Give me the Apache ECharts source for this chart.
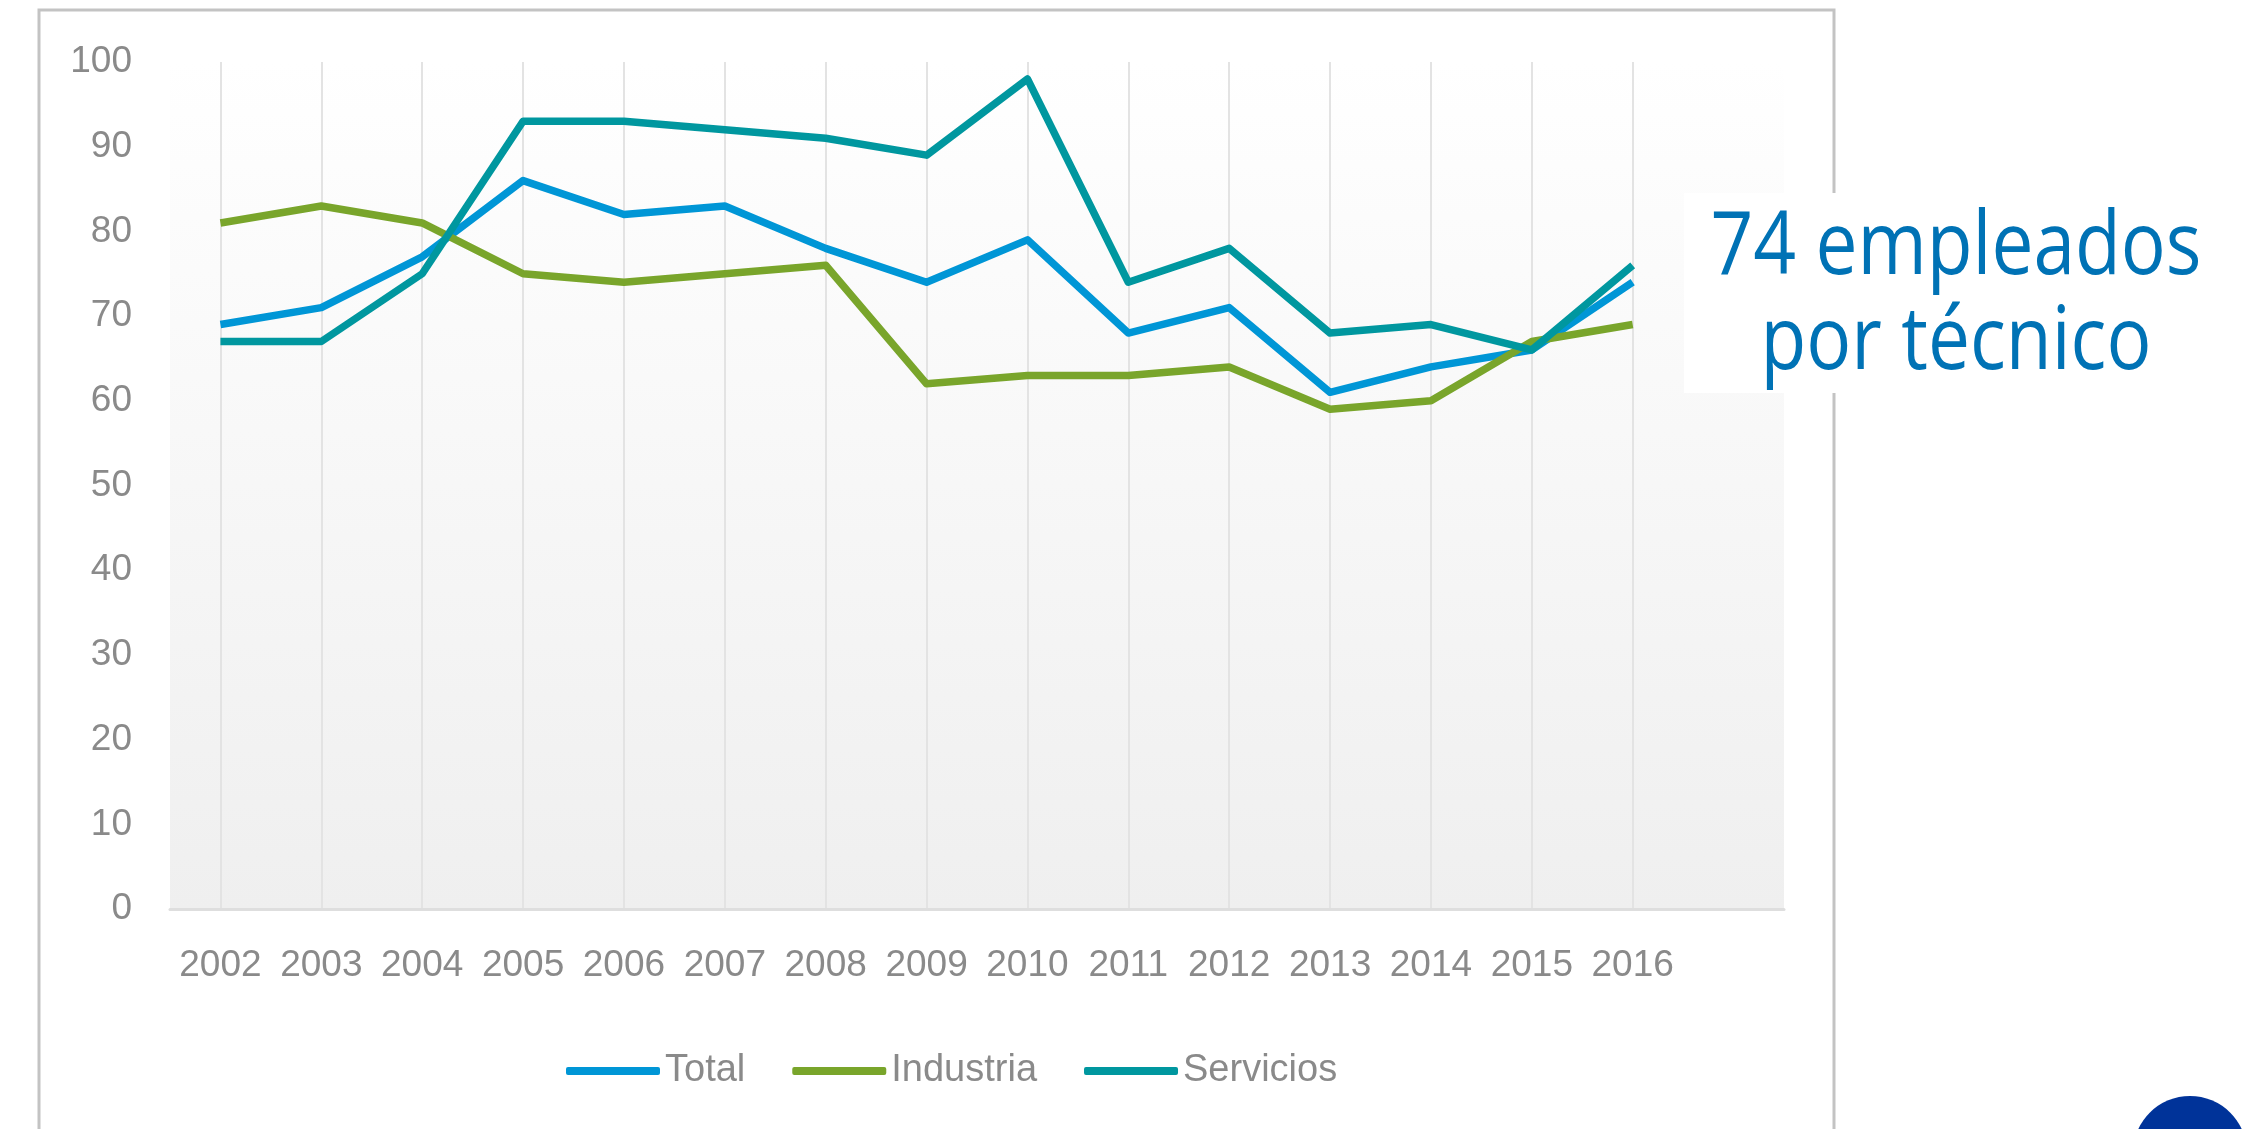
<!DOCTYPE html>
<html>
<head>
<meta charset="utf-8">
<script src="https://cdn.jsdelivr.net/npm/echarts@6/dist/echarts.min.js"></script>
<style>
html,body{margin:0;padding:0;background:#fff;}
#chart{width:2256px;height:1129px;}
</style>
</head>
<body>
<div id="chart"></div>
<script>
const categories = ['2002','2003','2004','2005','2006','2007','2008','2009','2010','2011','2012','2013','2014','2015','2016',''];
const total     = [69,71,77,86,82,83,78,74,79,68,71,61,64,66,74];
const industria = [81,83,81,75,74,75,76,62,63,63,64,59,60,67,69];
const servicios = [67,67,75,93,93,92,91,89,98,74,78,68,69,66,76];
const seriesNames = ['Total','Industria','Servicios'];
const yTicks = {min:0, max:100, interval:10};
const calloutLines = ['74 empleados','por técnico'];

const labelFont = "'Liberation Sans',sans-serif";
const grey = '#8a8a8a';
const colors = ['#0096d6','#79a52b','#00979f'];

const chart = echarts.init(document.getElementById('chart'));
chart.setOption({
  animation:false,
  backgroundColor:'#ffffff',
  grid:{left:170,right:472,top:62,bottom:220,show:true,borderWidth:0,
    backgroundColor:{type:'linear',x:0,y:0,x2:0,y2:1,colorStops:[
      {offset:0,color:'#ffffff'},{offset:0.12,color:'#fdfdfd'},{offset:1,color:'#efefef'}]}},
  legend:{
    left:561, top:1047, itemWidth:94, itemHeight:8, itemGap:47, icon:'roundRect',
    data:seriesNames,
    textStyle:{color:grey,fontSize:38,fontFamily:labelFont}
  },
  xAxis:{
    type:'category', data:categories, boundaryGap:true,
    axisLine:{show:true,lineStyle:{color:'#dedede',width:3}},
    axisTick:{show:false},
    axisLabel:{interval:0,color:grey,fontSize:37,fontFamily:labelFont,margin:38},
    splitLine:{show:true,alignWithLabel:true,
      interval:function(idx,val){return val!=='';},
      lineStyle:{color:'#e3e3e3',width:2}}
  },
  yAxis:{
    type:'value', min:yTicks.min, max:yTicks.max, interval:yTicks.interval,
    axisLine:{show:false}, axisTick:{show:false}, splitLine:{show:false},
    axisLabel:{color:grey,fontSize:37,fontFamily:labelFont,margin:38}
  },
  series:[
    {name:seriesNames[0],type:'line',data:total,symbol:'none',lineStyle:{width:7.5,color:colors[0],join:'round'},itemStyle:{color:colors[0]}},
    {name:seriesNames[1],type:'line',data:industria,symbol:'none',lineStyle:{width:7.5,color:colors[1],join:'round'},itemStyle:{color:colors[1]}},
    {name:seriesNames[2],type:'line',data:servicios,symbol:'none',lineStyle:{width:7.5,color:colors[2],join:'round'},itemStyle:{color:colors[2]}}
  ],
  graphic:[
    {type:'rect',z:-1,silent:true,shape:{x:39,y:10,width:1795,height:1200},style:{fill:'none',stroke:'#c3c3c3',lineWidth:3}},
    {type:'rect',z:10,silent:true,shape:{x:1684,y:193,width:572,height:200},style:{fill:'#ffffff'}},
    {type:'text',z:11,silent:true,x:1956,y:249,scaleX:0.86,
      style:{text:calloutLines[0],fontSize:87,fontFamily:"'Open Sans',sans-serif",fill:'#0072b5',textAlign:'center',textVerticalAlign:'middle'}},
    {type:'text',z:11,silent:true,x:1956,y:344,scaleX:0.86,
      style:{text:calloutLines[1],fontSize:87,fontFamily:"'Open Sans',sans-serif",fill:'#0072b5',textAlign:'center',textVerticalAlign:'middle'}},
    {type:'circle',z:11,silent:true,shape:{cx:2190,cy:1153,r:57},style:{fill:'#003399'}}
  ]
});
</script>
</body>
</html>
